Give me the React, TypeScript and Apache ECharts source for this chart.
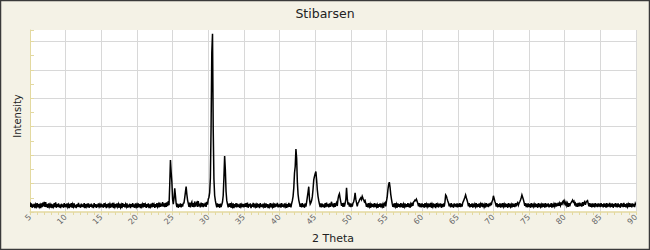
import React, { useEffect, useRef } from "react";
import * as echarts from "echarts";

// Powder diffraction pattern of stibarsen: 2θ from 5° to 90° in 0.1° steps
const twoThetaStart = 5;
const twoThetaStep = 0.1;

const intensity: number[] = [
  // 5.0 – 9.9
  34,18,30,15,27,17,29,14,26,19, 31,16,28,18,25,14,30,17,33,20, 36,18,35,17,28,15,30,18,26,16, 29,14,27,19,31,17,34,15,28,18, 30,16,26,14,29,18,27,15,31,17,
  // 10.0 – 14.9
  28,16,30,18,26,14,29,17,31,15, 27,19,30,16,25,14,28,18,32,17, 26,15,29,18,27,16,31,14,28,19, 25,17,30,15,27,18,29,16,26,14, 31,18,28,15,27,17,30,19,26,16,
  // 15.0 – 19.9
  29,17,27,15,31,18,26,14,28,16, 30,19,27,15,29,17,32,14,26,18, 28,16,30,19,27,15,29,17,25,14, 31,18,28,16,27,19,30,15,26,17, 29,14,28,18,31,16,27,15,30,18,
  // 20.0 – 24.9
  26,15,30,17,28,14,29,19,27,16, 31,18,26,15,28,17,30,14,27,19, 29,16,32,18,26,15,28,17,31,19, 27,16,33,18,29,20,35,19,30,17, 32,18,34,21,38,24,95,183,140,105,
  // 25.0 – 29.9
  45,28,48,83,58,30,17,29,15,27, 18,30,16,28,19,31,32,50,70,89, 62,42,30,18,33,16,29,35,18,31, 17,37,19,30,34,18,38,20,29,16, 33,19,31,17,29,20,33,18,36,26,
  // 30.0 – 34.9
  45,52,68,120,300,560,627,290,115,58, 40,27,16,30,18,28,15,29,17,26, 35,58,120,197,148,72,40,28,16,29, 18,31,15,27,19,30,14,28,17,31, 16,29,18,27,15,30,19,26,17,28,
  // 35.0 – 39.9
  16,29,18,31,17,33,15,28,19,30, 14,27,18,32,16,29,19,26,15,30, 17,28,14,31,18,27,16,29,19,26, 15,30,17,28,14,27,19,31,16,29, 18,26,15,30,17,28,19,32,16,27,
  // 40.0 – 44.9
  17,29,15,31,18,27,16,30,19,26, 15,28,17,32,18,29,16,30,40,55, 85,137,160,221,190,105,62,42,30,18, 29,16,31,18,27,15,30,19,35,52, 70,89,45,28,33,40,54,80,113,125,
  // 45.0 – 49.9
  135,142,113,78,55,40,28,17,30,16, 29,18,27,15,31,17,33,19,28,16, 30,18,27,36,19,29,16,31,18,28, 33,21,45,58,64,48,35,22,31,18, 32,19,30,44,85,48,26,34,19,30,
  // 50.0 – 54.9
  17,29,19,31,36,48,67,45,32,20, 31,35,41,46,50,44,55,48,43,36, 40,30,18,29,16,31,19,27,15,30, 18,28,16,31,17,29,19,26,15,28, 18,30,16,29,19,27,15,30,33,20,
  // 55.0 – 59.9
  38,52,78,96,105,88,62,45,30,18, 29,16,31,19,27,15,30,18,28,16, 31,17,29,15,27,19,30,16,28,18, 31,17,29,15,27,19,33,22,35,38, 42,40,45,38,30,20,31,17,29,16,
  // 60.0 – 64.9
  30,18,28,15,31,17,27,19,30,16, 29,18,32,15,27,19,30,17,28,14, 31,18,26,16,29,19,30,15,28,17, 30,19,35,60,56,47,39,32,20,29, 16,31,18,27,15,30,19,28,17,30,
  // 65.0 – 69.9
  16,29,18,31,17,28,19,33,38,45, 52,60,50,42,33,20,31,16,28,18, 30,15,29,17,27,19,31,16,28,18, 30,15,27,19,32,17,29,18,26,16, 31,19,28,17,30,21,33,24,36,42,
  // 70.0 – 74.9
  57,48,38,30,19,31,16,28,18,30, 15,29,17,31,19,27,16,30,18,28, 15,31,17,29,19,26,16,30,18,28, 17,31,20,29,33,24,31,36,42,50, 60,52,44,34,22,31,17,29,16,30,
  // 75.0 – 79.9
  18,28,15,31,17,29,19,27,16,30, 18,28,15,31,17,29,19,26,16,30, 18,29,15,31,17,28,19,30,16,27, 18,31,15,29,17,28,20,32,19,30, 21,33,22,31,23,34,24,36,39,30,
  // 80.0 – 84.9
  38,27,33,22,30,18,31,20,29,33, 37,42,35,38,27,31,19,30,18,32, 20,33,21,30,19,35,22,32,36,25, 34,38,40,30,20,31,18,29,16,30, 18,29,16,31,19,28,17,30,19,29,
  // 85.0 – 90.0
  17,31,19,28,16,30,18,29,15,31, 17,28,19,32,16,29,18,30,15,28, 19,31,17,29,16,30,18,27,15,31, 19,29,17,32,18,28,16,30,19,27, 17,31,18,29,16,30,19,28,17,30,
  24,
];

const xMin = 5;
const xMax = 90;
const xInterval = 5;
const yMin = 0;
const yMax = 640;
const yInterval = 100;

const title = "Stibarsen";
const xName = "2 Theta";
const yName = "Intensity";

const AXIS_YELLOW = "#E3D9A0";
const GRID_GRAY = "#D8D8D8";
const FONT = "DejaVu Sans";

export default function App() {
  const ref = useRef<HTMLDivElement>(null);

  useEffect(() => {
    if (!ref.current) return;
    const chart = echarts.init(ref.current, null, { renderer: "svg" });

    const data = intensity.map((v, i) => [
      Math.round((twoThetaStart + i * twoThetaStep) * 10) / 10,
      v,
    ]);

    chart.setOption({
      animation: false,
      backgroundColor: "#F4F2E6",
      title: {
        text: title,
        left: "center",
        top: 2,
        textStyle: {
          fontFamily: FONT,
          fontSize: 12.5,
          fontWeight: "normal",
          color: "#222",
        },
      },
      grid: {
        left: 30,
        right: 14,
        top: 30,
        bottom: 38,
        show: true,
        backgroundColor: "#FFFFFF",
        borderWidth: 0,
        containLabel: false,
        outerBoundsMode: "none",
      },
      xAxis: {
        type: "value",
        min: xMin,
        max: xMax,
        interval: xInterval,
        name: xName,
        nameLocation: "middle",
        nameGap: 17,
        nameTextStyle: { fontFamily: FONT, fontSize: 11, color: "#222" },
        axisLine: { show: true, lineStyle: { color: AXIS_YELLOW, width: 1.5 } },
        axisTick: { show: true, inside: false, length: 3, lineStyle: { color: AXIS_YELLOW } },
        minorTick: { show: true, splitNumber: 5, length: 3, lineStyle: { color: AXIS_YELLOW } },
        axisLabel: {
          rotate: 45,
          fontFamily: FONT,
          fontSize: 8,
          color: "#666",
          margin: 4,
        },
        splitLine: { show: true, showMinLine: false, lineStyle: { color: GRID_GRAY, width: 1 } },
      },
      yAxis: {
        type: "value",
        min: yMin,
        max: yMax,
        interval: yInterval,
        name: yName,
        nameLocation: "middle",
        nameGap: 8,
        nameTextStyle: { fontFamily: FONT, fontSize: 10, color: "#222", padding: [0, 0, 0, 10] },
        axisLine: { show: true, lineStyle: { color: AXIS_YELLOW, width: 1 } },
        axisTick: { show: true, inside: true, length: 4, lineStyle: { color: AXIS_YELLOW } },
        minorTick: { show: true, splitNumber: 2, length: 4, lineStyle: { color: AXIS_YELLOW } },
        axisLabel: { show: false },
        splitLine: {
          show: true,
          showMinLine: false,
          showMaxLine: false,
          lineStyle: { color: GRID_GRAY, width: 1 },
        },
      },
      series: [
        {
          type: "custom",
          name: "Stibarsen",
          coordinateSystem: "cartesian2d",
          data,
          encode: { x: 0, y: 1 },
          silent: true,
          clip: true,
          renderItem: (params: any, api: any) => {
            if (params.dataIndex !== 0) return null;
            const points = data.map((d) => api.coord(d));
            return {
              type: "polyline",
              silent: true,
              shape: { points },
              style: { stroke: "#000000", lineWidth: 1.5, fill: null, lineJoin: "miter" },
            };
          },
        },
      ],
      graphic: [
        {
          type: "rect",
          silent: true,
          z: 100,
          shape: { x: 0.5, y: 0.5, width: 649, height: 249 },
          style: { fill: "none", stroke: "#3A3A3A", lineWidth: 1.5 },
        },
      ],
    });

    return () => chart.dispose();
  }, []);

  return (
    <div
      ref={ref}
      style={{ position: "absolute", left: 0, top: 0, width: 650, height: 250 }}
    />
  );
}
